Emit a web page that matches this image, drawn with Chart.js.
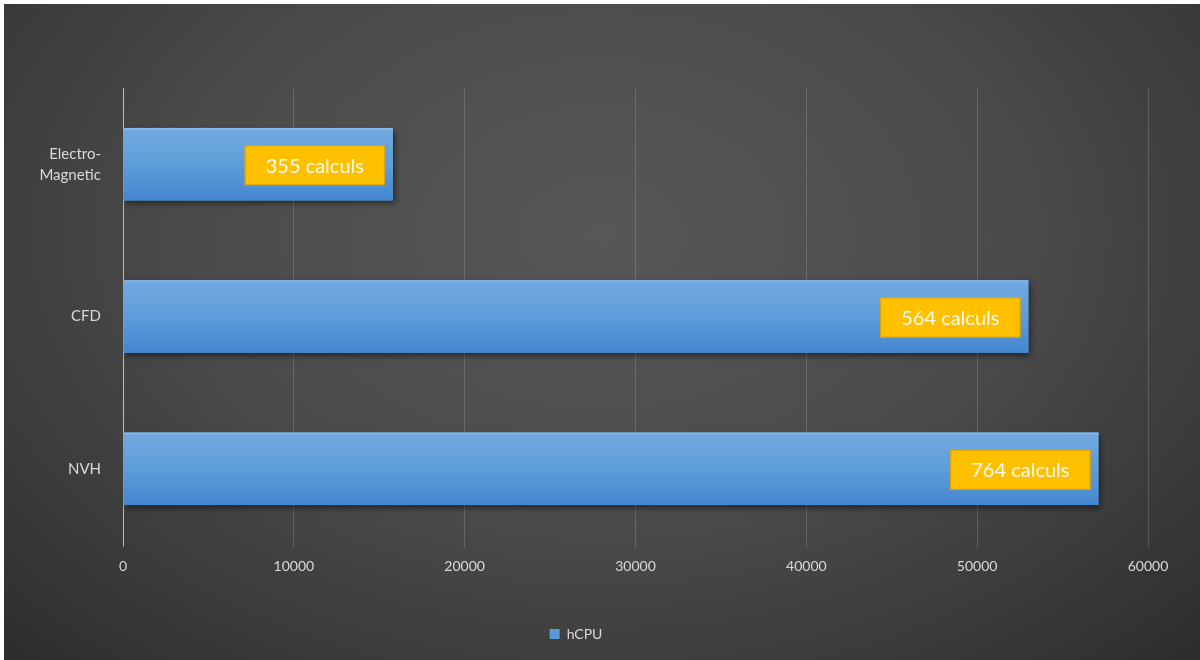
<!DOCTYPE html>
<html>
<head>
<meta charset="utf-8">
<script src="https://cdn.jsdelivr.net/npm/chart.js@4/dist/chart.umd.min.js"></script>
<style>
  html, body { margin: 0; padding: 0; background: #ffffff; width: 1200px; height: 660px; overflow: hidden; }
  #wrap {
    position: absolute; left: 4px; top: 4px; width: 1196px; height: 656px;
    background: radial-gradient(ellipse 75% 95% at 50% 35%, #575757 0%, #4b4b4b 45%, #3a3a3a 75%, #2a2a2a 100%);
  }
</style>
</head>
<body>
<div id="wrap"><canvas id="c" width="1196" height="656"></canvas></div>
<script>
const categories = [["Electro-", "Magnetic"], "CFD", "NVH"];
const hCPU = [15800, 53000, 57100];
const calculCounts = [355, 564, 764];
const xTicks = [0, 10000, 20000, 30000, 40000, 50000, 60000];
const seriesName = "hCPU";

const FONT = "Lato, 'Liberation Sans', sans-serif";

const barStyle = {
  id: 'barStyle',
  beforeDatasetsDraw(chart) {
    const ctx = chart.ctx;
    ctx.save();
    ctx.shadowColor = 'rgba(0,0,0,0.5)';
    ctx.shadowBlur = 6;
    ctx.shadowOffsetX = 2;
    ctx.shadowOffsetY = 3;
  },
  afterDatasetsDraw(chart) {
    const ctx = chart.ctx;
    ctx.restore();
    const meta = chart.getDatasetMeta(0);
    meta.data.forEach((bar, i) => {
      const top = bar.y - bar.height / 2;
      const left = bar.base;
      const w = bar.x - bar.base;
      const g = ctx.createLinearGradient(0, top, 0, top + bar.height);
      g.addColorStop(0, '#72aae0');
      g.addColorStop(0.5, '#5e9dda');
      g.addColorStop(1, '#4486cf');
      ctx.save();
      ctx.fillStyle = g;
      ctx.fillRect(left, top, w, bar.height);
      ctx.fillStyle = 'rgba(255,255,255,0.18)';
      ctx.fillRect(left, top, w, 1.5);
      ctx.restore();

      // label box
      const txt = calculCounts[i] + ' calculs';
      ctx.save();
      ctx.font = '20px ' + FONT;
      const tw = ctx.measureText(txt).width;
      const bw = tw + 42, bh = 40;
      const bx = bar.x - 8 - bw;
      const by = bar.y - bh / 2 + 1;
      ctx.fillStyle = '#ffc000';
      ctx.fillRect(bx, by, bw, bh);
      ctx.strokeStyle = '#d8a200';
      ctx.lineWidth = 1;
      ctx.strokeRect(bx + 0.5, by + 0.5, bw - 1, bh - 1);
      ctx.fillStyle = '#fffaf0';
      ctx.textAlign = 'center';
      ctx.textBaseline = 'middle';
      ctx.fillText(txt, bx + bw / 2, by + bh / 2 + 1);
      ctx.restore();
    });
  }
};

new Chart(document.getElementById('c'), {
  type: 'bar',
  data: {
    labels: categories,
    datasets: [{
      label: seriesName,
      data: hCPU,
      backgroundColor: '#5b9bd5',
      borderWidth: 0,
      barPercentage: 0.8,
      categoryPercentage: 0.595
    }]
  },
  options: {
    indexAxis: 'y',
    responsive: false,
    animation: false,
    devicePixelRatio: 1,
    layout: { padding: { left: 0, right: 52, top: 84, bottom: 9 } },
    plugins: {
      legend: {
        position: 'bottom',
        labels: {
          color: '#d9d9d9',
          font: { family: FONT, size: 14 },
          boxWidth: 10, boxHeight: 10,
          padding: 14,
          generateLabels: (chart) => [{
            text: seriesName, fillStyle: '#5b9bd5', strokeStyle: '#5b9bd5',
            lineWidth: 0, fontColor: '#d9d9d9', hidden: false, datasetIndex: 0
          }]
        }
      },
      tooltip: { enabled: false }
    },
    scales: {
      x: {
        min: xTicks[0], max: xTicks[xTicks.length - 1],
        afterBuildTicks: (s) => { s.ticks = xTicks.map(v => ({ value: v })); },
        afterFit: (s) => { s.height = 68; },
        ticks: { color: '#d9d9d9', font: { family: FONT, size: 14 }, padding: 10,
                 callback: (v) => String(v) },
        grid: { color: 'rgba(255,255,255,0.16)', drawTicks: true, tickLength: 3, lineWidth: 1 },
        border: { display: false }
      },
      y: {
        afterFit: (s) => { s.width = 119; },
        ticks: { color: '#d9d9d9', font: { family: FONT, size: 15, lineHeight: 1.4 }, padding: 14 },
        grid: { display: false },
        border: { display: true, color: '#bdbdbd', width: 1 }
      }
    }
  },
  plugins: [barStyle]
});
</script>
</body>
</html>
